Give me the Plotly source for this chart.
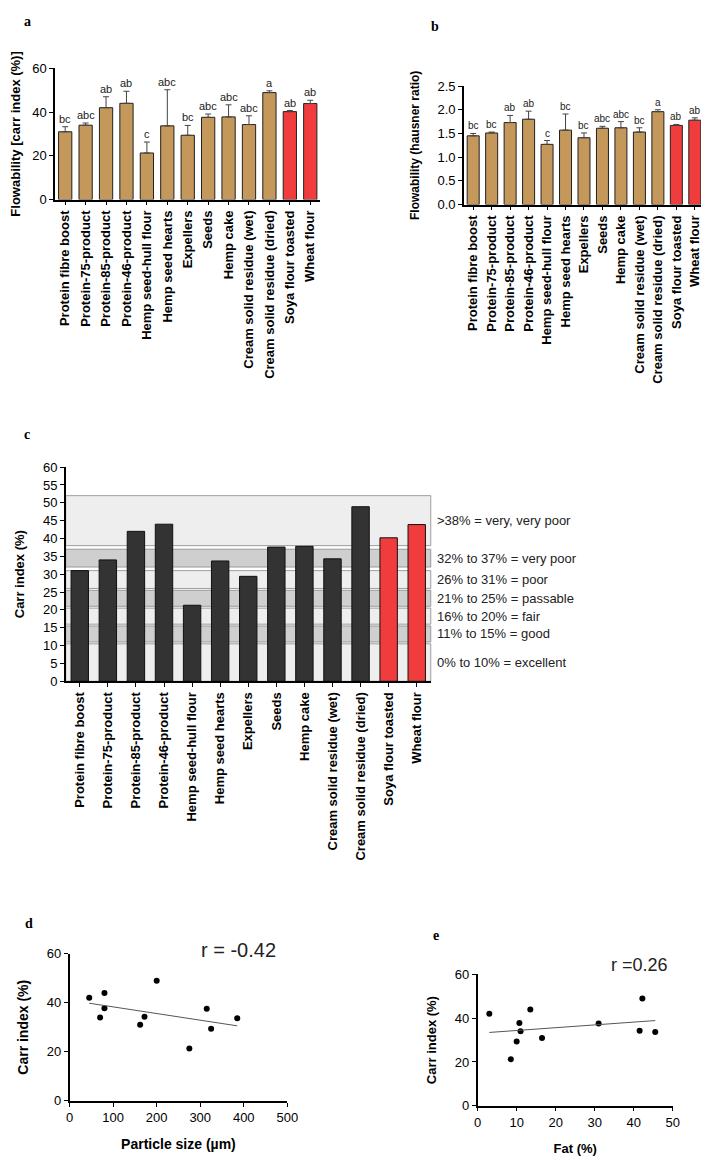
import numpy as np
import plotly.graph_objects as go

categories = ["Protein fibre boost", "Protein-75-product", "Protein-85-product", "Protein-46-product",
              "Hemp seed-hull flour", "Hemp seed hearts", "Expellers", "Seeds", "Hemp cake",
              "Cream solid residue (wet)", "Cream solid residue (dried)", "Soya flour toasted", "Wheat flour"]
carr = [31, 34, 42, 44, 21.3, 33.7, 29.4, 37.6, 37.8, 34.3, 48.9, 40.2, 43.9]
carr_err = [2.3, 1, 5, 5.5, 5, 16.5, 4.5, 1.5, 5.5, 4, 0.8, 0.5, 1.5]
carr_letters = ["bc", "abc", "ab", "ab", "c", "abc", "bc", "abc", "abc", "abc", "a", "ab", "ab"]
hausner = [1.45, 1.51, 1.73, 1.80, 1.27, 1.57, 1.41, 1.61, 1.62, 1.53, 1.96, 1.67, 1.78]
hausner_err = [0.05, 0.02, 0.15, 0.17, 0.08, 0.34, 0.1, 0.04, 0.13, 0.09, 0.04, 0.02, 0.05]
hausner_letters = ["bc", "bc", "ab", "ab", "c", "bc", "bc", "abc", "abc", "bc", "a", "ab", "ab"]
band_lo = [0, 11, 16, 21, 26, 32, 38]
band_hi = [10.5, 15.5, 20.5, 25.5, 31, 37, 52]
band_labels = ["0% to 10% = excellent", "11% to 15% = good", "16% to 20% = fair", "21% to 25% = passable",
               "26% to 31% = poor", "32% to 37% = very poor", ">38% = very, very poor"]
particle = [45, 70, 80, 80, 162, 172, 200, 275, 315, 325, 385]
carr_d = [42, 34, 44, 37.8, 31, 34.3, 49, 21.3, 37.6, 29.4, 33.7]
fat = [3, 8.5, 10, 10.7, 11, 13.5, 16.5, 31, 41.5, 42.2, 45.5]
carr_e = [42, 21.3, 29.4, 37.8, 34, 44, 31, 37.6, 34.3, 49, 33.7]

TAN, RED = "#C4975A", "#F03C3C"
H, W = 1163, 709
bar_cols = [TAN] * 11 + [RED] * 2
FONT = "Arial, Liberation Sans"
CFONT = "Liberation Sans Narrow, Arial Narrow, Liberation Sans"


def py(p):
    return 1 - p / H


def px(p):
    return p / W


fig = go.Figure()

# ── a: carr index bars ──
fig.add_trace(go.Bar(x=categories, y=carr, marker=dict(color=bar_cols, line=dict(color="#222", width=1)),
                     error_y=dict(type="data", array=carr_err, symmetric=False, arrayminus=[0] * 13,
                                  color="#444", thickness=1, width=3),
                     xaxis="x", yaxis="y", width=0.65))
for c, v, e, t in zip(categories, carr, carr_err, carr_letters):
    fig.add_annotation(x=c, y=v + e, text=t, xref="x", yref="y", showarrow=False, yanchor="bottom",
                       font=dict(size=11, color="#222", family=CFONT))
# ── b: hausner ratio bars ──
fig.add_trace(go.Bar(x=categories, y=hausner, marker=dict(color=bar_cols, line=dict(color="#222", width=1)),
                     error_y=dict(type="data", array=hausner_err, symmetric=False, arrayminus=[0] * 13,
                                  color="#444", thickness=1, width=3),
                     xaxis="x2", yaxis="y2", width=0.65))
for c, v, e, t in zip(categories, hausner, hausner_err, hausner_letters):
    fig.add_annotation(x=c, y=v + e, text=t, xref="x2", yref="y2", showarrow=False, yanchor="bottom",
                       font=dict(size=10, color="#222", family=CFONT))
# ── c: bands + bars ──
for i, (lo, hi, lab) in enumerate(zip(band_lo, band_hi, band_labels)):
    fig.add_shape(type="rect", xref="x3 domain", yref="y3", x0=0, x1=1.0, y0=lo, y1=hi,
                  fillcolor="#cfcfcf" if i % 2 else "#eeeeee", line=dict(color="#888", width=0.8), layer="below")
    fig.add_annotation(xref="paper", yref="y3", x=px(431), y=(lo + hi) / 2, text=lab, showarrow=False,
                       xanchor="left", font=dict(size=13, color="#222", family=CFONT))
fig.add_trace(go.Bar(x=categories, y=carr, marker=dict(color=["#333"] * 11 + [RED] * 2,
                                                       line=dict(color="#111", width=1)),
                     xaxis="x3", yaxis="y3", width=0.62))

# ── d, e: scatter with fit lines ──
for xs, ys, xa, ya in [(particle, carr_d, "x4", "y4"), (fat, carr_e, "x5", "y5")]:
    fig.add_trace(go.Scatter(x=xs, y=ys, mode="markers", marker=dict(color="black", size=6),
                             xaxis=xa, yaxis=ya))
    k, b = np.polyfit(xs, ys, 1)
    xl = np.array([min(xs), max(xs)])
    fig.add_trace(go.Scatter(x=xl, y=k * xl + b, mode="lines", line=dict(color="#555", width=1),
                             xaxis=xa, yaxis=ya))
fig.add_annotation(xref="paper", yref="paper", x=px(230), y=py(960), text="r = -0.42", showarrow=False,
                   font=dict(size=20, color="#222", family=CFONT), xanchor="center")
fig.add_annotation(xref="paper", yref="paper", x=px(641), y=py(975), text="r =0.26", showarrow=False,
                   font=dict(size=18, color="#222", family=CFONT), xanchor="center")

ax = dict(showline=True, linecolor="black", linewidth=1.5, ticks="outside", ticklen=4, tickcolor="black",
          showgrid=False, zeroline=False, tickfont=dict(size=13, color="black", family=CFONT))
cat = dict(ax, tickangle=-90, tickfont=dict(size=13, color="black", family=FONT))


def ttl(t, s=13):
    return dict(text=f"<b>{t}</b>", font=dict(size=s, color="black", family=FONT))


fig.update_layout(
    width=W, height=H, margin=dict(l=0, r=0, t=0, b=0), showlegend=False, bargap=0.3,
    plot_bgcolor="white", paper_bgcolor="white", font=dict(family=FONT),
    xaxis=dict(cat, domain=[px(42), px(314)], anchor="y", tickprefix="<b>", ticksuffix="</b>"),
    yaxis=dict(ax, domain=[py(187), py(54)], range=[0, 60], dtick=20, anchor="x",
               title=ttl("Flowability [carr index (%)]")),
    xaxis2=dict(cat, domain=[px(461), px(707)], anchor="y2", tickprefix="<b>", ticksuffix="</b>"),
    yaxis2=dict(ax, domain=[py(192), py(72)], range=[0, 2.5], dtick=0.5, tickformat=".1f", anchor="x2",
                title=ttl("Flowability (hausner ratio)", 12)),
    xaxis3=dict(cat, domain=[px(53), px(427)], anchor="y3", tickprefix="<b>", ticksuffix="</b>"),
    yaxis3=dict(ax, domain=[py(675), py(458)], range=[0, 60], dtick=5, anchor="x3",
                title=ttl("Carr index (%)")),
    xaxis4=dict(ax, domain=[px(57), px(280)], range=[0, 500], dtick=100, anchor="y4",
                title=ttl("Particle size (µm)", 14)),
    yaxis4=dict(ax, domain=[py(1100), py(951)], range=[0, 60], dtick=20, anchor="x4",
                title=ttl("Carr index (%)", 14)),
    xaxis5=dict(ax, domain=[px(475), px(675)], range=[0, 50], dtick=10, anchor="y5",
                title=ttl("Fat (%)")),
    yaxis5=dict(ax, domain=[py(1105), py(972)], range=[0, 60], dtick=20, anchor="x5",
                title=ttl("Carr index (%)")),
)
for lab, x, y in [("a", 8, 7), ("b", 425, 12), ("c", 8, 425), ("d", 9, 920), ("e", 427, 933)]:
    fig.add_annotation(xref="paper", yref="paper", x=px(x), y=py(y), text=f"<b>{lab}</b>", showarrow=False,
                       xanchor="left", yanchor="middle", font=dict(family="Liberation Serif", size=14, color="black"))

fig.write_html("out.html")
